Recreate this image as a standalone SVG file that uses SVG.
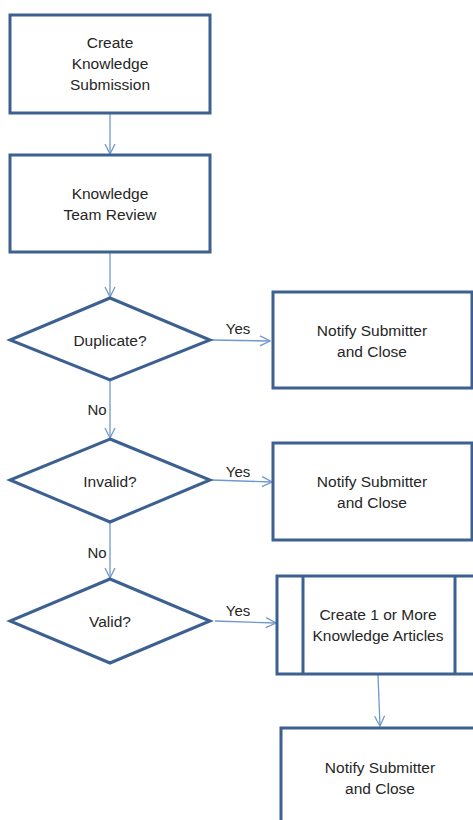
<svg xmlns="http://www.w3.org/2000/svg" width="473" height="820" viewBox="0 0 473 820">
  <style>
    .shape { fill: #ffffff; stroke: #3c6190; stroke-width: 3; stroke-linejoin: miter; }
    .link { fill: none; stroke: #7098cc; stroke-width: 1.3; }
    .label { font-family: "Liberation Sans", Arial, sans-serif; font-size: 15.5px; fill: #262626; text-anchor: middle; }
    .tag { font-family: "Liberation Sans", Arial, sans-serif; font-size: 15px; fill: #262626; text-anchor: middle; }
  </style>
  <defs>
    <marker id="open-arrow" viewBox="0 0 12 12" refX="11" refY="6" markerWidth="12" markerHeight="12" markerUnits="userSpaceOnUse" orient="auto">
      <path d="M1,1 L11,6 L1,11" fill="none" stroke="#7098cc" stroke-width="1.3"/>
    </marker>
  </defs>
  <rect width="473" height="820" fill="#ffffff"/>

  <g id="connectors">
    <line class="link" x1="110" y1="113" x2="110" y2="154" marker-end="url(#open-arrow)"/>
    <line class="link" x1="110" y1="252" x2="110" y2="297" marker-end="url(#open-arrow)"/>
    <line class="link" x1="211" y1="340" x2="270" y2="341" marker-end="url(#open-arrow)"/>
    <line class="link" x1="110" y1="380" x2="110" y2="438" marker-end="url(#open-arrow)"/>
    <line class="link" x1="211" y1="480" x2="272" y2="482" marker-end="url(#open-arrow)"/>
    <line class="link" x1="110" y1="522" x2="110" y2="578" marker-end="url(#open-arrow)"/>
    <line class="link" x1="215" y1="621" x2="276" y2="623" marker-end="url(#open-arrow)"/>
    <line class="link" x1="378" y1="675" x2="380" y2="726" marker-end="url(#open-arrow)"/>
    <text class="tag" x="238" y="334">Yes</text>
    <text class="tag" x="97" y="415">No</text>
    <text class="tag" x="238" y="477">Yes</text>
    <text class="tag" x="97" y="558">No</text>
    <text class="tag" x="238" y="616">Yes</text>
  </g>

  <g id="create-submission">
    <rect class="shape" x="10" y="15" width="200" height="98"/>
    <text class="label" x="110" y="48">Create</text>
    <text class="label" x="110" y="69">Knowledge</text>
    <text class="label" x="110" y="90">Submission</text>
  </g>

  <g id="team-review">
    <rect class="shape" x="10" y="155" width="200" height="97"/>
    <text class="label" x="110" y="199">Knowledge</text>
    <text class="label" x="110" y="220">Team Review</text>
  </g>

  <g id="duplicate">
    <polygon class="shape" points="110,298 210,340 110,380 10,340"/>
    <text class="label" x="110" y="346">Duplicate?</text>
  </g>

  <g id="notify-duplicate">
    <rect class="shape" x="273" y="292" width="199" height="96"/>
    <text class="label" x="372" y="336">Notify Submitter</text>
    <text class="label" x="372" y="357">and Close</text>
  </g>

  <g id="invalid">
    <polygon class="shape" points="110,439 210,480 110,522 10,480"/>
    <text class="label" x="110" y="487">Invalid?</text>
  </g>

  <g id="notify-invalid">
    <rect class="shape" x="273" y="443" width="199" height="97"/>
    <text class="label" x="372" y="487">Notify Submitter</text>
    <text class="label" x="372" y="508">and Close</text>
  </g>

  <g id="valid">
    <polygon class="shape" points="110,579 210,621 110,663 10,621"/>
    <text class="label" x="110" y="627">Valid?</text>
  </g>

  <g id="create-articles">
    <rect class="shape" x="277" y="576" width="210" height="98"/>
    <line class="shape" x1="303" y1="576" x2="303" y2="674"/>
    <line class="shape" x1="455" y1="576" x2="455" y2="674"/>
    <text class="label" x="378" y="620">Create 1 or More</text>
    <text class="label" x="378" y="641">Knowledge Articles</text>
  </g>

  <g id="notify-valid">
    <rect class="shape" x="281" y="728" width="210" height="110"/>
    <text class="label" x="380" y="773">Notify Submitter</text>
    <text class="label" x="380" y="794">and Close</text>
  </g>
</svg>
